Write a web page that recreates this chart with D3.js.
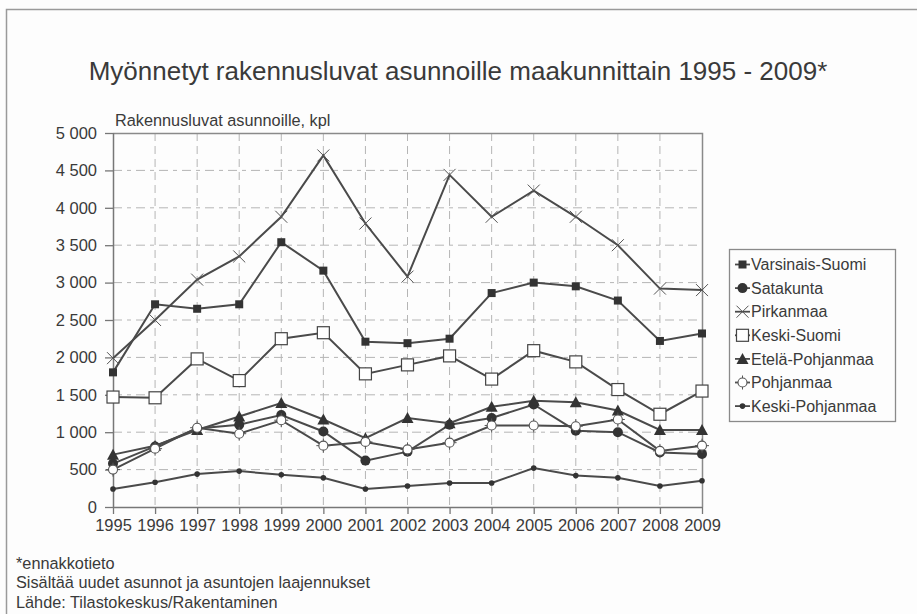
<!DOCTYPE html>
<html lang="fi">
<head>
<meta charset="utf-8">
<script src="https://cdn.jsdelivr.net/npm/d3@7"></script>
<style>
  html, body { margin: 0; padding: 0; background: #fdfdfd; }
  svg { display: block; font-family: "Liberation Sans", Arial, sans-serif; }
</style>
</head>
<body>
<svg id="chart" width="917" height="614"></svg>
<script>
// Vuodet ja maakuntien myönnetyt rakennusluvat (kpl)
const years = [1995, 1996, 1997, 1998, 1999, 2000, 2001, 2002, 2003, 2004, 2005, 2006, 2007, 2008, 2009];
const varsinaisSuomi = [1800, 2710, 2650, 2710, 3540, 3160, 2210, 2190, 2250, 2860, 3000, 2950, 2760, 2220, 2320];
const satakunta      = [580, 810, 1050, 1100, 1230, 1010, 620, 740, 1100, 1190, 1370, 1020, 1000, 730, 710];
const pirkanmaa      = [1990, 2500, 3040, 3350, 3880, 4700, 3790, 3080, 4440, 3880, 4230, 3880, 3500, 2920, 2900];
const keskiSuomi     = [1470, 1460, 1980, 1690, 2250, 2330, 1780, 1900, 2020, 1710, 2090, 1940, 1570, 1240, 1550];
const etelaPohjanmaa = [700, 820, 1030, 1210, 1390, 1170, 920, 1190, 1120, 1340, 1420, 1400, 1290, 1030, 1030];
const pohjanmaa      = [500, 780, 1060, 980, 1160, 820, 870, 770, 860, 1090, 1090, 1080, 1170, 750, 820];
const keskiPohjanmaa = [240, 330, 440, 480, 430, 390, 240, 280, 320, 320, 520, 420, 390, 280, 350];
const yTicks = [0, 500, 1000, 1500, 2000, 2500, 3000, 3500, 4000, 4500, 5000];

const seriesNames = ["Varsinais-Suomi", "Satakunta", "Pirkanmaa", "Keski-Suomi", "Etelä-Pohjanmaa", "Pohjanmaa", "Keski-Pohjanmaa"];
const seriesValues = [varsinaisSuomi, satakunta, pirkanmaa, keskiSuomi, etelaPohjanmaa, pohjanmaa, keskiPohjanmaa];
const seriesMarkers = ["squareFill", "circleFill", "cross", "squareOpen", "triangle", "star", "dot"];

const svg = d3.select("#chart");
const W = 917, H = 614;
const ink = "#3a3a3a";
const lineCol = "#4a4a4a";
const gridCol = "#b5b5b5";

const plot = { left: 113, right: 702, top: 133, bottom: 507 };
const x = d3.scaleLinear().domain([years[0], years[years.length - 1]]).range([plot.left, plot.right]);
const y = d3.scaleLinear().domain([0, 5000]).range([plot.bottom, plot.top]);

// Outer frame (top and left edges)
svg.append("path")
  .attr("d", `M6.5,${H} V9.5 H${W}`)
  .attr("fill", "none").attr("stroke", "#9a9a9a").attr("stroke-width", 1.5);

// Title
svg.append("text")
  .attr("x", 458).attr("y", 80)
  .attr("text-anchor", "middle")
  .attr("font-size", 26).attr("fill", ink)
  .text("Myönnetyt rakennusluvat asunnoille maakunnittain 1995 - 2009*");

svg.append("text")
  .attr("x", 115).attr("y", 126)
  .attr("font-size", 16.3).attr("fill", ink)
  .text("Rakennusluvat asunnoille, kpl");

// Grid lines
const grid = svg.append("g");
grid.selectAll("line.h").data(yTicks.filter(d => d > 0 && d < 5000)).join("line")
  .attr("x1", plot.left).attr("x2", plot.right)
  .attr("y1", d => y(d)).attr("y2", d => y(d))
  .attr("stroke", gridCol).attr("stroke-width", 1)
  .attr("stroke-dasharray", "9,5,4,5");
grid.selectAll("line.v").data(years.slice(1, -1)).join("line")
  .attr("x1", d => x(d)).attr("x2", d => x(d))
  .attr("y1", plot.top).attr("y2", plot.bottom)
  .attr("stroke", gridCol).attr("stroke-width", 1)
  .attr("stroke-dasharray", "8,5");

// Plot frame: top and right edges
svg.append("path")
  .attr("d", `M${plot.left},${plot.top + 0.5} H${plot.right + 0.5} V${plot.bottom}`)
  .attr("fill", "none").attr("stroke", "#8a8a8a").attr("stroke-width", 1.5);

// Axes
const yAxis = d3.axisLeft(y).tickValues(yTicks).tickSize(8).tickPadding(8)
  .tickFormat(d => d3.format(",")(d).replace(/,/g, "\u00a0"));
const gy = svg.append("g").attr("transform", `translate(${plot.left},0)`).call(yAxis);
const xAxis = d3.axisBottom(x).tickValues(years).tickSize(7).tickPadding(5).tickFormat(d3.format("d"));
const gx = svg.append("g").attr("transform", `translate(0,${plot.bottom})`).call(xAxis);
[gx, gy].forEach(g => {
  g.select(".domain").attr("stroke", "#777").attr("stroke-width", 1.5);
  g.selectAll(".tick line").attr("stroke", "#777").attr("stroke-width", 1.3);
  g.selectAll(".tick text").attr("font-size", 16.5).attr("fill", ink)
    .attr("font-family", "'Liberation Sans', Arial, sans-serif");
});
gx.select(".domain").attr("d", `M${plot.left},0.5H${plot.right}`);
gy.select(".domain").attr("d", `M0.5,${plot.top}V${plot.bottom}`);

// Marker drawing
function drawMarker(g, type, cx, cy) {
  switch (type) {
    case "squareFill":
      g.append("rect").attr("x", cx - 4).attr("y", cy - 4).attr("width", 8).attr("height", 8)
        .attr("fill", "#333");
      break;
    case "circleFill":
      g.append("circle").attr("cx", cx).attr("cy", cy).attr("r", 5).attr("fill", "#333");
      break;
    case "cross":
      g.append("path").attr("d", `M${cx - 6},${cy - 6}L${cx + 6},${cy + 6}M${cx - 6},${cy + 6}L${cx + 6},${cy - 6}`)
        .attr("stroke", "#555").attr("stroke-width", 1).attr("fill", "none");
      break;
    case "squareOpen":
      g.append("rect").attr("x", cx - 6).attr("y", cy - 6).attr("width", 12).attr("height", 12)
        .attr("fill", "#fff").attr("stroke", "#444").attr("stroke-width", 1.2);
      break;
    case "triangle":
      g.append("path").attr("d", `M${cx},${cy - 6}L${cx + 6},${cy + 5}L${cx - 6},${cy + 5}Z`).attr("fill", "#333");
      break;
    case "star":
      g.append("path").attr("d", `M${cx},${cy - 7}V${cy + 7}M${cx - 7},${cy}H${cx + 7}`)
        .attr("stroke", "#555").attr("stroke-width", 1);
      g.append("circle").attr("cx", cx).attr("cy", cy).attr("r", 4.5)
        .attr("fill", "#fff").attr("stroke", "#555").attr("stroke-width", 1.1);
      break;
    case "dot":
      g.append("circle").attr("cx", cx).attr("cy", cy).attr("r", 2.8).attr("fill", "#333");
      break;
  }
}

// Series lines and markers
const line = d3.line().x((d, i) => x(years[i])).y(d => y(d));
const seriesG = svg.append("g");
seriesValues.forEach((vals, si) => {
  const g = seriesG.append("g");
  g.append("path").datum(vals).attr("d", line)
    .attr("fill", "none").attr("stroke", lineCol).attr("stroke-width", 2);
  vals.forEach((v, i) => drawMarker(g, seriesMarkers[si], x(years[i]), y(v)));
});

// Legend
const lg = svg.append("g");
lg.append("rect").attr("x", 729.5).attr("y", 249.5).attr("width", 166).attr("height", 172)
  .attr("fill", "#fdfdfd").attr("stroke", "#8a8a8a").attr("stroke-width", 1.3);
seriesNames.forEach((name, i) => {
  const cy = 264.5 + i * 23.6;
  const g = lg.append("g");
  g.append("line").attr("x1", 735).attr("x2", 750).attr("y1", cy).attr("y2", cy)
    .attr("stroke", lineCol).attr("stroke-width", 1.8);
  drawMarker(g, seriesMarkers[i], 742.5, cy);
  g.append("text").attr("x", 751).attr("y", cy + 5.6)
    .attr("font-size", 16).attr("fill", ink).text(name);
});

// Footnotes
const notes = ["*ennakkotieto", "Sisältää uudet asunnot ja asuntojen laajennukset", "Lähde: Tilastokeskus/Rakentaminen"];
svg.append("g").selectAll("text").data(notes).join("text")
  .attr("x", 16).attr("y", (d, i) => 569 + i * 19.3)
  .attr("font-size", 16.3).attr("fill", ink).text(d => d);
</script>
</body>
</html>
